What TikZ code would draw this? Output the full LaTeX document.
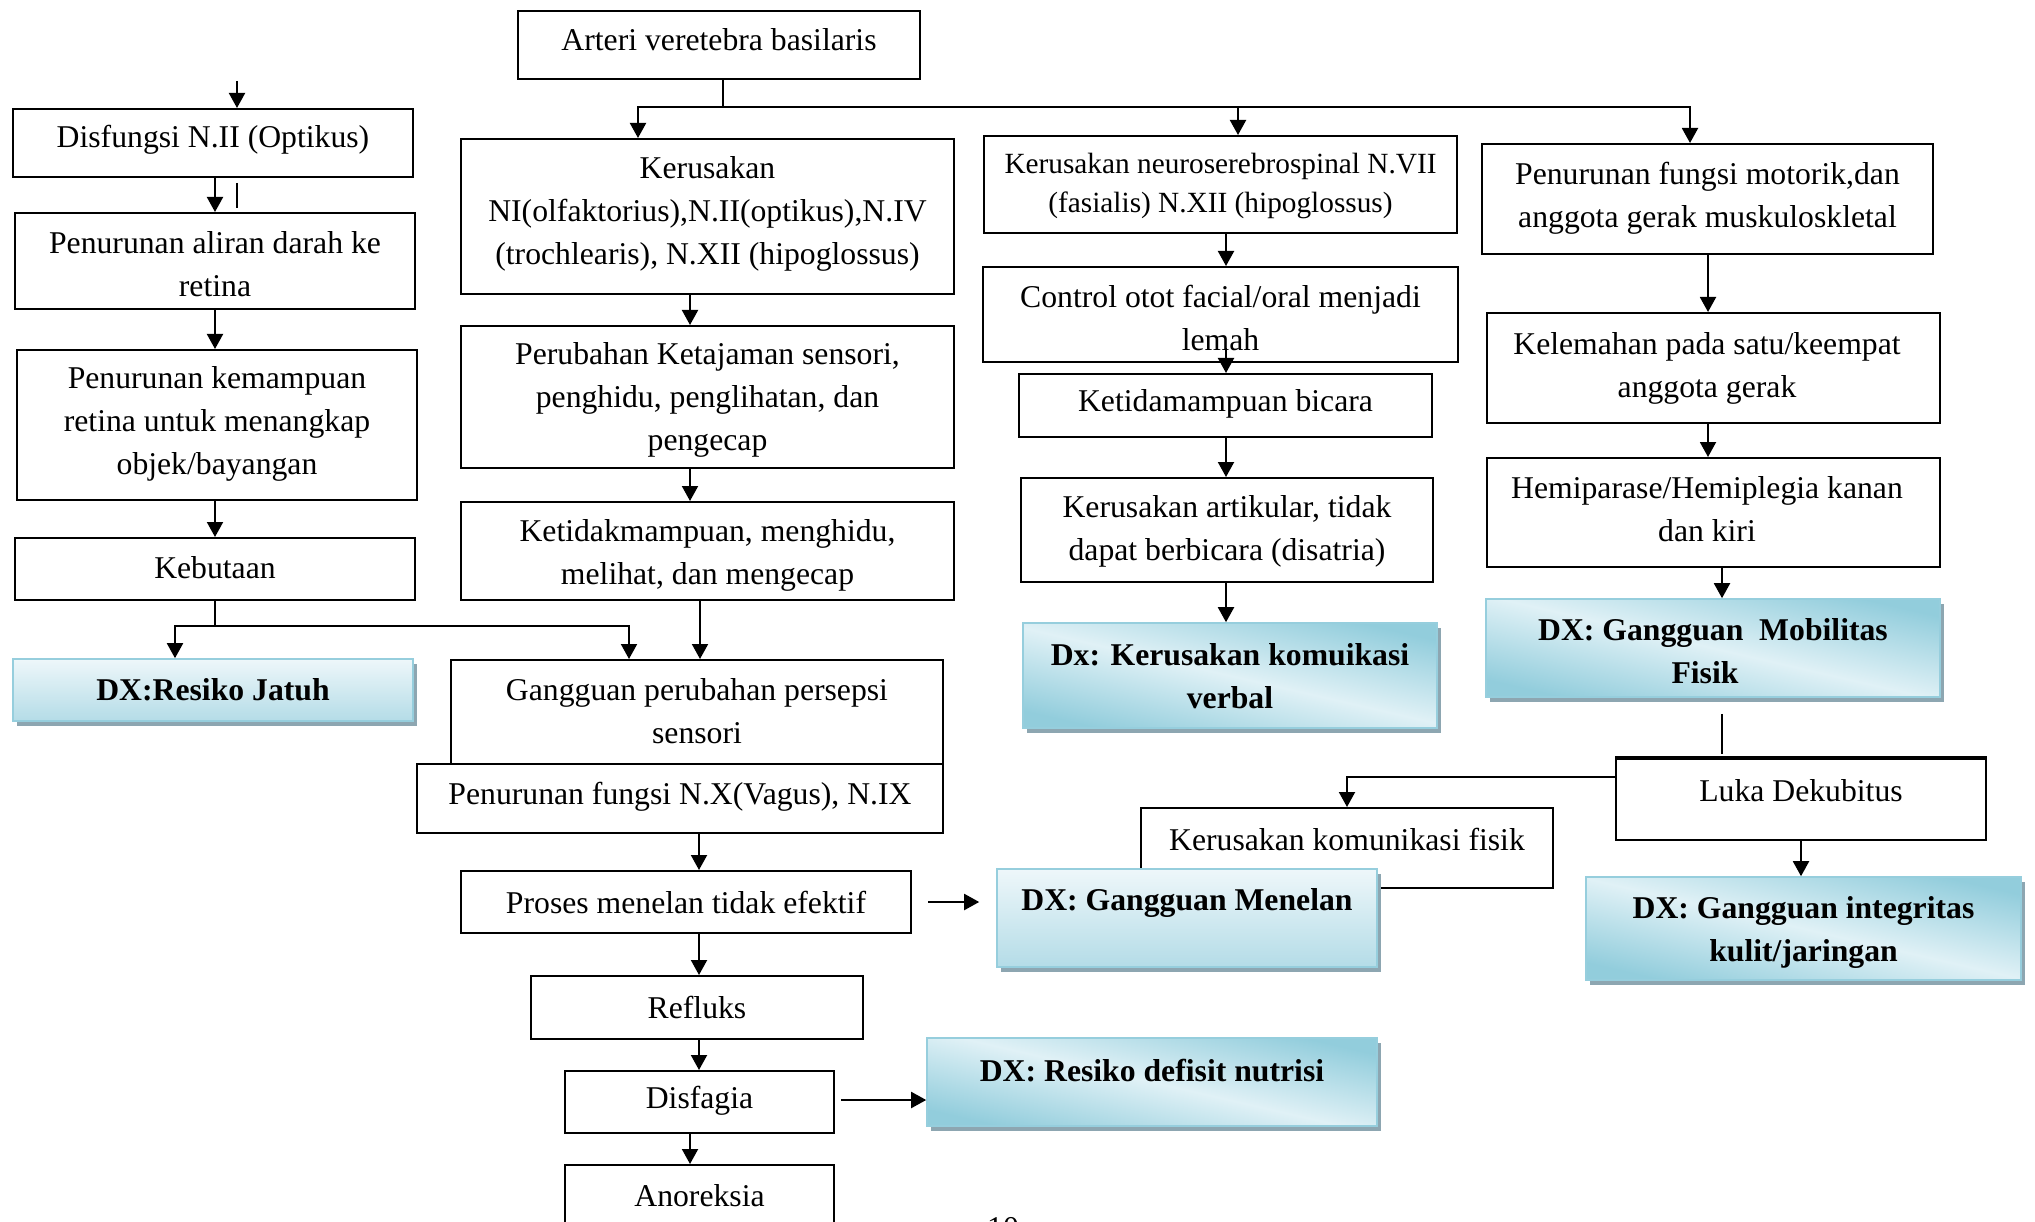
\documentclass[tikz,border=0pt]{standalone}
\usepackage{fontspec}
\setmainfont{Liberation Serif}
\usetikzlibrary{fit,shadows,arrows.meta}
\definecolor{dxlight}{RGB}{224,241,246}
\definecolor{dxdark}{RGB}{146,205,220}
\definecolor{dxtop}{RGB}{238,247,250}
\definecolor{dxbot}{RGB}{180,220,231}
\definecolor{dxborder}{RGB}{150,206,221}
\definecolor{dxshadow}{RGB}{141,166,177}
\begin{document}
\begin{tikzpicture}[x=1pt,y=-1pt,
  box/.style={draw=black, line width=2pt, inner sep=0pt},
  txt/.style={inner sep=0pt, align=center, font=\fontsize{31.7}{43}\selectfont},
  txts/.style={inner sep=0pt, align=center, font=\fontsize{29.3}{39}\selectfont},
  txtb/.style={inner sep=0pt, align=center, font=\fontsize{31.7}{43}\selectfont\bfseries},
  dxbase/.style={draw=dxborder, line width=1.6pt, inner sep=0pt,
    general shadow={fill=dxshadow, shadow xshift=4pt, shadow yshift=-5pt}},
  dxv/.style={dxbase, top color=dxtop, bottom color=dxbot},
  dxd/.style={dxbase, top color=dxdark, bottom color=dxdark, middle color=dxlight, shading angle=-13},
  arr/.style={draw=black, line width=2pt, -{Triangle[length=15pt,width=16pt]}},
  ln/.style={draw=black, line width=2pt},
  thinln/.style={draw=black, line width=1.2pt}
]
\fill[white] (0,0) rectangle (2035,1222);
\useasboundingbox (0,0) rectangle (2035,1222);
\clip (0,0) rectangle (2035,1222);

% ---------- left column ----------
\node[box, fit={(13,109) (413,177)}] (dis) {};
\node[txt] (disT) at (213,140) {Disfungsi N.II (Optikus)};
\node[box, fit={(15,213) (415,309)}] (ali) {};
\node[txt] (aliT) at (215,264) {Penurunan aliran darah ke\\retina};
\node[box, fit={(17,350) (417,500)}] (kem) {};
\node[txt] (kemT) at (217,424) {Penurunan kemampuan\\retina untuk menangkap\\objek/bayangan};
\node[box, fit={(15,538) (415,600)}] (buta) {};
\node[txt] (butaT) at (215,568) {Kebutaan};
\node[dxv, fit={(13,659) (413,721)}] (jat) {};
\node[txtb] (jatT) at (213,690) {DX:Resiko Jatuh};

% ---------- middle column ----------
\node[box, fit={(518,11) (920,79)}] (art) {};
\node[txt] (artT) at (719,40) {Arteri veretebra basilaris};
\node[box, fit={(461,139) (954,294)}] (kn) {};
\node[txt] (knT) at (707.5,214) {Kerusakan\\NI(olfaktorius),N.II(optikus),N.IV\\(trochlearis), N.XII (hipoglossus)};
\node[box, fit={(461,326) (954,468)}] (per) {};
\node[txt] (perT) at (707.5,400) {Perubahan Ketajaman sensori,\\penghidu, penglihatan, dan\\pengecap};
\node[box, fit={(461,502) (954,600)}] (ketm) {};
\node[txt] (ketmT) at (707.5,555) {Ketidakmampuan, menghidu,\\melihat, dan mengecap};
\node[box, fit={(451,660) (943,764)}] (gps) {};
\node[txt] (gpsT) at (697,711) {Gangguan perubahan persepsi\\sensori};
\node[box, fit={(417,764) (943,833)}] (pfn) {};
\node[txt] (pfnT) at (680,797) {Penurunan fungsi N.X(Vagus), N.IX};
\node[box, fit={(461,871) (911,933)}] (pmt) {};
\node[txt] (pmtT) at (686,902) {Proses menelan tidak efektif};
\node[box, fit={(531,976) (863,1039)}] (ref) {};
\node[txt] (refT) at (697,1007) {Refluks};
\node[box, fit={(565,1071) (834,1133)}] (dsf) {};
\node[txt] (dsfT) at (699.5,1101) {Disfagia};
\node[box, fit={(565,1165) (834,1262)}] (ano) {};
\node[txt] (anoT) at (699.5,1196) {Anoreksia};
\node[dxd, fit={(927,1038) (1377,1126)}] (nut) {};
\node[txtb] (nutT) at (1152,1071) {DX: Resiko defisit nutrisi};

% ---------- right-middle column ----------
\node[box, fit={(984,136) (1457,233)}] (nsp) {};
\node[txts] (nspT) at (1220.5,186) {Kerusakan neuroserebrospinal N.VII\\(fasialis) N.XII (hipoglossus)};
\node[box, fit={(983,267) (1458,362)}] (ctl) {};
\node[txt] (ctlT) at (1220.5,318) {Control otot facial/oral menjadi\\lemah};
\node[box, fit={(1019,374) (1432,437)}] (kbi) {};
\node[txt] (kbiT) at (1225.5,404) {Ketidamampuan bicara};
\node[box, fit={(1021,478) (1433,582)}] (kar) {};
\node[txt] (karT) at (1227,531) {Kerusakan artikular, tidak\\dapat berbicara (disatria)};
\node[dxd, fit={(1023,623) (1437,728)}] (ver) {};
\node[txtb] (verT) at (1230,676) {Dx: Kerusakan komuikasi\\verbal};

% ---------- right column ----------
\node[box, fit={(1482,144) (1933,254)}] (pfm) {};
\node[txt] (pfmT) at (1707.5,198) {Penurunan fungsi motorik,dan\\anggota gerak muskuloskletal};
\node[box, fit={(1487,313) (1940,423)}] (kel) {};
\node[txt] (kelT) at (1707,368) {Kelemahan pada satu/keempat\\anggota gerak};
\node[box, fit={(1487,458) (1940,567)}] (hem) {};
\node[txt] (hemT) at (1707,509) {Hemiparase/Hemiplegia kanan\\dan kiri};
\node[dxd, fit={(1486,599) (1940,697)}] (mob) {};
\node[txtb] (mobT) at (1713,651) {DX: Gangguan\ \ Mobilitas\\Fisik\hspace*{16pt}};
\node[box, fit={(1616,759) (1986,840)}] (luka) {};
\draw[line width=3.5pt] (luka.north west) -- (luka.north east);
\node[txt] (lukaT) at (1801,791) {Luka Dekubitus};
\node[box, fit={(1141,808) (1553,888)}] (kkf) {};
\node[txt] (kkfT) at (1347,839) {Kerusakan komunikasi fisik};
\node[dxv, fit={(997,869) (1377,967)}] (men) {};
\node[txtb] (menT) at (1187,903) {DX: Gangguan Menelan};
\node[dxd, fit={(1586,877) (2021,980)}] (int) {};
\node[txtb] (intT) at (1803.5,932) {DX: Gangguan integritas\\kulit/jaringan};

% page number (cut off at the lower edge)
\node[txt, anchor=base] (pg) at (1003,1238) {10};

% ---------- x positions of connectors ----------
\coordinate (xL) at (215,0);
\coordinate (xj) at (175,0);
\coordinate (xg) at (629,0);
\coordinate (xa) at (638,0);
\coordinate (xb) at (1238,0);
\coordinate (xc) at (1690,0);
\coordinate (xm1) at (690,0);
\coordinate (xm2) at (700,0);
\coordinate (xm3) at (699,0);
\coordinate (xk) at (1226,0);
\coordinate (xr) at (1708,0);
\coordinate (xr2) at (1722,0);
\coordinate (s0) at (237,81);
\coordinate (t1) at (237,183);
\coordinate (t2) at (237,208);
\coordinate (jb) at (215,626);
\coordinate (bus) at (723,107);
\coordinate (ck) at (1226,348);

% ---------- left connectors ----------
\draw[arr] (s0) -- (s0 |- dis.north);
\draw[arr] (dis.south -| xL) -- (ali.north -| xL);
\draw[thinln] (t1) -- (t2);
\draw[arr] (ali.south -| xL) -- (kem.north -| xL);
\draw[arr] (kem.south -| xL) -- (buta.north -| xL);
\draw[ln] (buta.south -| xL) -- (jb);
\draw[arr] (jb) -| (jat.north -| xj);
\draw[arr] (jb) -| (gps.north -| xg);

% ---------- top fan-out ----------
\draw[thinln] (art.south -| bus) -- (bus);
\draw[arr] (bus) -| (kn.north -| xa);
\draw[arr] (bus) -| (nsp.north -| xb);
\draw[arr] (bus) -| (pfm.north -| xc);

% ---------- middle connectors ----------
\draw[arr] (kn.south -| xm1) -- (per.north -| xm1);
\draw[arr] (per.south -| xm1) -- (ketm.north -| xm1);
\draw[arr] (ketm.south -| xm2) -- (gps.north -| xm2);
\draw[arr] (pfn.south -| xm3) -- (pmt.north -| xm3);
\draw[arr] (pmt.south -| xm3) -- (ref.north -| xm3);
\draw[arr] (ref.south -| xm3) -- (dsf.north -| xm3);
\draw[arr] (dsf.south -| xm1) -- (ano.north -| xm1);
\draw[arr, shorten <=16pt, shorten >=17pt] (pmt.east) -- (pmt.east -| men.west);
\draw[arr, shorten <=6pt] ([yshift=2pt]dsf.east) -- ([yshift=2pt]dsf.east -| nut.west);

% ---------- right-middle connectors ----------
\draw[arr] (nsp.south -| xk) -- (ctl.north -| xk);
\draw[arr] (ck) -- (ck |- kbi.north);
\draw[arr] (kbi.south -| xk) -- (kar.north -| xk);
\draw[arr] (kar.south -| xk) -- (ver.north -| xk);

% ---------- right connectors ----------
\draw[arr] (pfm.south -| xr) -- (kel.north -| xr);
\draw[arr] (kel.south -| xr) -- (hem.north -| xr);
\draw[arr] (hem.south -| xr2) -- (mob.north -| xr2);
\draw[ln, shorten <=16pt, shorten >=4pt] (mob.south -| xr2) -- (luka.north -| xr2);
\draw[arr] ([yshift=23pt]luka.west) -| (kkf.north);
\draw[arr] (luka.south) -- (luka.south |- int.north);
\end{tikzpicture}
\end{document}
